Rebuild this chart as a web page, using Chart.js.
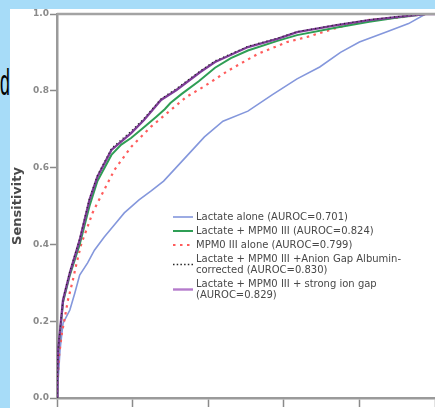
<!DOCTYPE html>
<html>
    <head>
        <meta charset="UTF-8" />
        <title>ROC curves</title>
        <script src="https://cdn.jsdelivr.net/npm/chart.js@4.4.2/dist/chart.umd.min.js"></script>
        <style>
            html,
            body {
                margin: 0;
                width: 435px;
                height: 408px;
                overflow: hidden;
                background: #a7dcf8;
            }

            .panel {
                position: absolute;
                left: 10px;
                top: 9px;
                right: 0;
                bottom: 0;
                background: #ffffff;
            }

            .side-letter {
                position: absolute;
                left: 0;
                top: 64px;
                font-family: "Liberation Sans", Arial, sans-serif;
                font-size: 37px;
                line-height: 1;
                color: #000;
                transform: scaleX(0.48);
                transform-origin: left top;
            }

            #roc {
                position: absolute;
                left: 0;
                top: 0;
            }
        </style>
    </head>
    <body>
        <div class="side-letter">d</div>
        <div class="panel"></div>
        <canvas id="roc" width="445" height="430"></canvas>

        <script>
            // --- values (1 - specificity, sensitivity) ---
            var lactateFpr = [0, 0.003, 0.008, 0.016, 0.034, 0.047, 0.06, 0.081, 0.099, 0.125, 0.152, 0.178, 0.217, 0.25, 0.282, 0.315, 0.348, 0.39, 0.439, 0.505, 0.57, 0.635, 0.695, 0.75, 0.8, 0.871, 0.93, 0.975, 1];
            var lactateTpr = [0, 0.047, 0.125, 0.195, 0.229, 0.273, 0.32, 0.352, 0.385, 0.419, 0.451, 0.482, 0.516, 0.54, 0.565, 0.6, 0.635, 0.68, 0.721, 0.747, 0.79, 0.831, 0.862, 0.9, 0.927, 0.953, 0.975, 1, 1];

            var comboFpr = [0, 0.001, 0.003, 0.016, 0.034, 0.06, 0.086, 0.107, 0.144, 0.17, 0.196, 0.23, 0.262, 0.285, 0.3, 0.33, 0.375, 0.418, 0.46, 0.505, 0.583, 0.635, 0.74, 0.826, 0.897, 0.975, 1];
            var comboTpr = [0, 0.06, 0.12, 0.25, 0.32, 0.4, 0.5, 0.565, 0.633, 0.66, 0.677, 0.705, 0.732, 0.752, 0.768, 0.792, 0.825, 0.86, 0.885, 0.905, 0.93, 0.945, 0.965, 0.98, 0.99, 1, 1];

            var mpmFpr = [0, 0.002, 0.005, 0.013, 0.021, 0.029, 0.042, 0.052, 0.065, 0.078, 0.094, 0.107, 0.125, 0.152, 0.196, 0.248, 0.301, 0.342, 0.387, 0.452, 0.531, 0.609, 0.661, 0.74, 0.818, 0.897, 0.975, 1];
            var mpmTpr = [0, 0.05, 0.107, 0.169, 0.211, 0.255, 0.307, 0.352, 0.404, 0.438, 0.482, 0.508, 0.542, 0.594, 0.654, 0.706, 0.75, 0.784, 0.81, 0.852, 0.896, 0.927, 0.94, 0.964, 0.984, 0.99, 1, 1];

            var anionFpr = [0, 0.001, 0.003, 0.016, 0.034, 0.06, 0.086, 0.107, 0.144, 0.196, 0.23, 0.275, 0.316, 0.379, 0.418, 0.505, 0.583, 0.635, 0.74, 0.826, 0.897, 0.975, 1];
            var anionTpr = [0, 0.065, 0.128, 0.258, 0.33, 0.415, 0.52, 0.58, 0.65, 0.695, 0.728, 0.779, 0.806, 0.852, 0.878, 0.916, 0.937, 0.954, 0.972, 0.985, 0.993, 1, 1];

            var sigFpr = [0, 0.001, 0.003, 0.016, 0.034, 0.06, 0.086, 0.107, 0.144, 0.196, 0.23, 0.275, 0.316, 0.379, 0.418, 0.505, 0.583, 0.635, 0.74, 0.826, 0.897, 0.975, 1];
            var sigTpr = [0, 0.062, 0.125, 0.255, 0.326, 0.411, 0.516, 0.576, 0.646, 0.69, 0.724, 0.776, 0.802, 0.849, 0.875, 0.914, 0.935, 0.953, 0.971, 0.984, 0.992, 1, 1];

            var seriesLabels = [
                "Lactate alone (AUROC=0.701)",
                "Lactate + MPM0 III (AUROC=0.824)",
                "MPM0 III alone (AUROC=0.799)",
                ["Lactate + MPM0 III +Anion Gap Albumin-", "corrected (AUROC=0.830)"],
                ["Lactate + MPM0 III + strong ion gap", "(AUROC=0.829)"],
            ];

            var axisTicks = [0, 0.2, 0.4, 0.6, 0.8, 1.0];

            function toPoints(xs, ys) {
                var pts = [];
                for (var i = 0; i < xs.length; i++) {
                    pts.push({ x: xs[i], y: ys[i] });
                }
                return pts;
            }

            // frame line on top of the plot + legend inside the plot
            var insetLegend = {
                id: "insetLegend",
                afterDraw: function (chart, args, opts) {
                    var ctx = chart.ctx;
                    var area = chart.chartArea;

                    ctx.save();
                    ctx.strokeStyle = "#a3a3a3";
                    ctx.lineWidth = 2.5;
                    ctx.beginPath();
                    ctx.moveTo(area.left, area.top);
                    ctx.lineTo(chart.width, area.top);
                    ctx.stroke();

                    ctx.font = opts.font;
                    ctx.fillStyle = opts.color;
                    ctx.textBaseline = "middle";
                    var y = opts.y;
                    chart.data.datasets.forEach(function (ds) {
                        var lines = Array.isArray(ds.label) ? ds.label : [ds.label];
                        var swatchY = y + ((lines.length - 1) * opts.lineHeight) / 2;

                        ctx.save();
                        ctx.strokeStyle = ds.legendColor || ds.borderColor;
                        ctx.lineWidth = ds.legendWidth || ds.borderWidth;
                        ctx.setLineDash(ds.legendDash || ds.borderDash || []);
                        ctx.beginPath();
                        ctx.moveTo(opts.x, swatchY);
                        ctx.lineTo(opts.x + opts.swatch, swatchY);
                        ctx.stroke();
                        ctx.restore();

                        lines.forEach(function (line, k) {
                            ctx.fillText(line, opts.x + opts.swatch + 3, y + k * opts.lineHeight);
                        });
                        y += lines.length * opts.lineHeight + opts.gap;
                    });
                    ctx.restore();
                },
            };

            var tickFont = { family: "'DejaVu Sans', sans-serif", size: 9, weight: "bold" };

            new Chart(document.getElementById("roc"), {
                type: "line",
                data: {
                    datasets: [
                        {
                            label: seriesLabels[0],
                            data: toPoints(lactateFpr, lactateTpr),
                            borderColor: "#8497dc",
                            borderWidth: 1.6,
                            order: 5,
                        },
                        {
                            label: seriesLabels[1],
                            data: toPoints(comboFpr, comboTpr),
                            borderColor: "#2f9e55",
                            borderWidth: 2,
                            order: 3,
                        },
                        {
                            label: seriesLabels[2],
                            data: toPoints(mpmFpr, mpmTpr),
                            borderColor: "#ff5c5c",
                            borderWidth: 2.2,
                            borderDash: [2.5, 4.5],
                            order: 4,
                        },
                        {
                            label: seriesLabels[3],
                            data: toPoints(anionFpr, anionTpr),
                            borderColor: "#262626",
                            borderWidth: 1.2,
                            borderDash: [1.2, 3],
                            legendWidth: 1.4,
                            legendDash: [1.5, 2.2],
                            order: 1,
                        },
                        {
                            label: seriesLabels[4],
                            data: toPoints(sigFpr, sigTpr),
                            borderColor: "#7e3c98",
                            legendColor: "#b57bcc",
                            borderWidth: 2.4,
                            order: 2,
                        },
                    ],
                },
                options: {
                    responsive: false,
                    animation: false,
                    devicePixelRatio: 1,
                    elements: {
                        point: { radius: 0 },
                        line: { tension: 0, fill: false },
                    },
                    layout: {
                        autoPadding: false,
                        padding: { left: 10, top: 14, right: 5, bottom: 0 },
                    },
                    plugins: {
                        legend: { display: false },
                        tooltip: { enabled: false },
                        insetLegend: {
                            x: 173,
                            y: 217,
                            swatch: 20,
                            lineHeight: 11,
                            gap: 3,
                            font: "10px 'DejaVu Sans', sans-serif",
                            color: "#484848",
                        },
                    },
                    scales: {
                        x: {
                            type: "linear",
                            min: 0,
                            max: 1,
                            afterBuildTicks: function (scale) {
                                scale.ticks = axisTicks.map(function (v) {
                                    return { value: v };
                                });
                            },
                            afterFit: function (scale) {
                                scale.height = 32;
                            },
                            ticks: {
                                font: tickFont,
                                color: "#888888",
                                padding: 2,
                                callback: function (v) {
                                    return v.toFixed(1);
                                },
                            },
                            grid: {
                                drawOnChartArea: false,
                                tickLength: 9,
                                tickWidth: 1.5,
                                color: "#8a8a8a",
                            },
                            border: { color: "#9a9a9a", width: 2.5 },
                        },
                        y: {
                            min: 0,
                            max: 1,
                            afterBuildTicks: function (scale) {
                                scale.ticks = axisTicks.map(function (v) {
                                    return { value: v };
                                });
                            },
                            afterFit: function (scale) {
                                scale.width = 47;
                            },
                            ticks: {
                                font: tickFont,
                                color: "#8a8a8a",
                                padding: 1,
                                callback: function (v) {
                                    return v.toFixed(1);
                                },
                            },
                            grid: {
                                drawOnChartArea: false,
                                tickLength: 7,
                                tickWidth: 1.5,
                                color: "#8a8a8a",
                            },
                            border: { color: "#9a9a9a", width: 2.5 },
                            title: {
                                display: true,
                                text: "Sensitivity",
                                color: "#4a4a4a",
                                padding: 0,
                                font: { family: "'DejaVu Sans', sans-serif", size: 13, weight: "bold" },
                            },
                        },
                    },
                },
                plugins: [insetLegend],
            });
        </script>
    </body>
</html>
